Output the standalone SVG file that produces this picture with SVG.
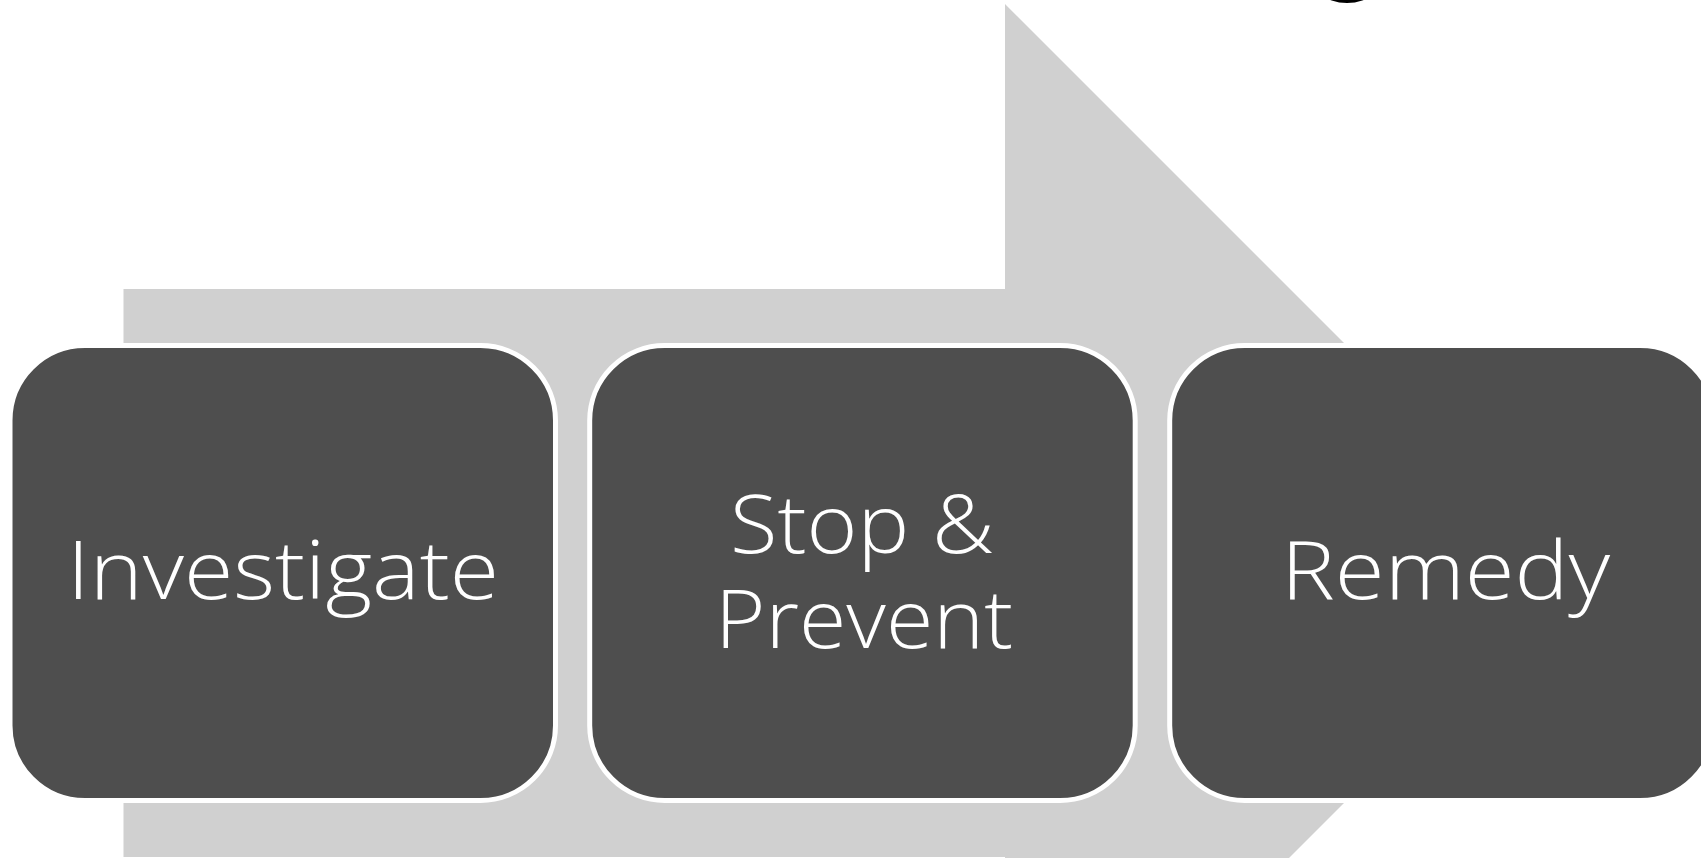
<svg xmlns="http://www.w3.org/2000/svg" width="1701" height="858" viewBox="0 0 1701 858">
  <style>
    .box { fill: #4e4e4e; stroke: #ffffff; stroke-width: 5; }
    .lbl { fill: #ffffff; font-family: "Open Sans", "DejaVu Sans", "Liberation Sans", sans-serif; font-weight: 300; font-size: 82px; text-anchor: middle; }
  </style>
  <rect x="0" y="0" width="1701" height="858" fill="#ffffff"/>
  <g id="connectors">
    <polygon id="arrow" points="123.5,289 1005,289 1005,4 1574,573 1005,1142 1005,857 123.5,857" fill="#d0d0d0"/>
  </g>
  <ellipse cx="1347" cy="-30" rx="40" ry="33" fill="#000000"/>
  <g id="node-investigate">
    <rect class="box" x="10" y="345.5" width="545.5" height="455" rx="75" ry="75"/>
    <text class="lbl" x="283" y="599" textLength="432" lengthAdjust="spacingAndGlyphs">Investigate</text>
  </g>
  <g id="node-stop-prevent">
    <rect class="box" x="589.7" y="345.5" width="545.5" height="455" rx="75" ry="75"/>
    <text class="lbl"><tspan x="862" y="553" textLength="264" lengthAdjust="spacingAndGlyphs">Stop &amp;</tspan><tspan x="864" y="647.5" textLength="298" lengthAdjust="spacingAndGlyphs">Prevent</tspan></text>
  </g>
  <g id="node-remedy">
    <rect class="box" x="1169.7" y="345.5" width="545.5" height="455" rx="75" ry="75"/>
    <text class="lbl" x="1445.5" y="599" textLength="329" lengthAdjust="spacingAndGlyphs">Remedy</text>
  </g>
</svg>
